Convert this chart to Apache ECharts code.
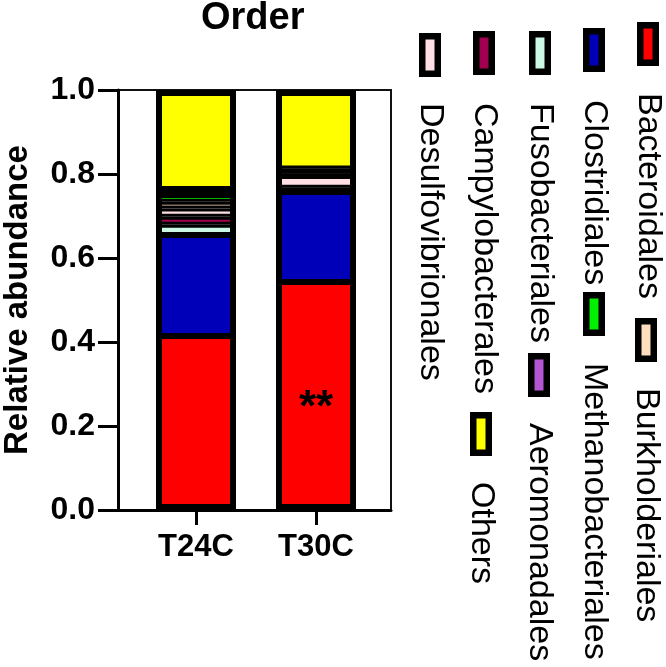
<!DOCTYPE html>
<html>
<head>
<meta charset="utf-8">
<script src="https://cdn.jsdelivr.net/npm/echarts@6/dist/echarts.min.js"></script>
<style>html,body{margin:0;padding:0;background:#fff;}#c{width:666px;height:667px;}</style>
</head>
<body>
<div id="c"></div>
<script>
const categories = ['T24C', 'T30C'];
const seriesNames = ['Bacteroidales', 'Clostridiales', 'Fusobacteriales', 'Campylobacterales', 'Desulfovibrionales', 'Burkholderiales', 'Methanobacteriales', 'Aeromonadales', 'Others'];
const seriesColors = ['#FF0000', '#0000B8', '#CCF8E6', '#A0004F', '#FFDFE4', '#FFDEBE', '#00F000', '#B455D2', '#FFFF00'];
const bacteroidales = [0.414, 0.543];
const clostridiales = [0.241, 0.214];
const fusobacteriales = [0.024, 0.005];
const campylobacterales = [0.019, 0.005];
const desulfovibrionales = [0.020, 0.028];
const burkholderiales = [0.016, 0.006];
const methanobacteriales = [0.016, 0.006];
const aeromonadales = [0.014, 0.006];
const others = [0.236, 0.187];
const significance = ['', '**'];

const values = [bacteroidales, clostridiales, fusobacteriales, campylobacterales, desulfovibrionales, burkholderiales, methanobacteriales, aeromonadales, others];
const totals = categories.map((c, j) => values.reduce((s, arr) => s + arr[j], 0));
const FONT = "'Liberation Sans', Arial, Helvetica, sans-serif";
const BAR_W = 80;

const series = seriesNames.map((name, i) => ({
  type: 'bar',
  name: name,
  stack: 'total',
  barWidth: BAR_W,
  barGap: '-100%',
  data: values[i].map((v, j) => {
    const item = { value: v };
    if (i === 0 && significance[j]) {
      item.label = {
        show: true, position: 'inside', formatter: significance[j],
        fontSize: 44, fontWeight: 'bold', color: '#000', fontFamily: FONT, offset: [0, 13]
      };
    }
    return item;
  }),
  itemStyle: { color: seriesColors[i], borderColor: '#000', borderWidth: 3 }
}));
// outer outline of each stacked column
series.push({
  type: 'bar',
  name: 'outline',
  stack: 'outline',
  barWidth: BAR_W,
  barGap: '-100%',
  silent: true,
  z: 3,
  data: totals,
  itemStyle: { color: 'rgba(0,0,0,0)', borderColor: '#000', borderWidth: 6 }
});

// legend layout (rotated 90deg clockwise like the reference)
const legendPos = [
  { sx: 637, sy: 22, ty: 93 },
  { sx: 583, sy: 28, ty: 100 },
  { sx: 529, sy: 31, ty: 103 },
  { sx: 473, sy: 31, ty: 103 },
  { sx: 419, sy: 33, ty: 103 },
  { sx: 635, sy: 318, ty: 388 },
  { sx: 583, sy: 292, ty: 363 },
  { sx: 528, sy: 353, ty: 423 },
  { sx: 470, sy: 412, ty: 482 }
];
const graphics = [];
seriesNames.forEach((name, i) => {
  const p = legendPos[i];
  graphics.push({
    type: 'rect', silent: true,
    shape: { x: p.sx + 3.25, y: p.sy + 3.25, width: 15.5, height: 37.5 },
    style: { fill: seriesColors[i], stroke: '#000', lineWidth: 6.5 }
  });
  graphics.push({
    type: 'text', silent: true,
    x: p.sx + 11, y: p.ty, rotation: -Math.PI / 2,
    style: { text: name, fontSize: 34, fontFamily: FONT, fill: '#000', textAlign: 'left', textVerticalAlign: 'middle' }
  });
});

const chart = echarts.init(document.getElementById('c'), null, { renderer: 'canvas' });
chart.setOption({
  animation: false,
  backgroundColor: '#fff',
  title: {
    text: 'Order', left: 201, top: 0, padding: 0,
    textStyle: { fontSize: 38, fontWeight: 'bold', color: '#000', fontFamily: FONT }
  },
  grid: [
    { left: 136, top: 90, right: 290, bottom: 157 },
    { left: 118, top: 90, right: 275, bottom: 157, show: true, borderColor: '#111', borderWidth: 2, backgroundColor: 'transparent' }
  ],
  xAxis: [
    {
      type: 'category', gridIndex: 0, data: categories, boundaryGap: true,
      axisLine: { show: false },
      axisTick: { show: true, alignWithLabel: true, length: 15, lineStyle: { color: '#000', width: 3 } },
      axisLabel: { fontSize: 31, fontWeight: 'bold', color: '#000', fontFamily: FONT, margin: 22 },
      splitLine: { show: false }
    },
    {
      type: 'value', gridIndex: 1, min: 0, max: 1,
      axisLine: { show: true, lineStyle: { color: '#000', width: 3 } },
      axisTick: { show: false }, axisLabel: { show: false }, splitLine: { show: false }
    }
  ],
  yAxis: [
    {
      type: 'value', gridIndex: 0, min: 0, max: 1, show: false, splitLine: { show: false }
    },
    {
      type: 'value', gridIndex: 1, min: 0, max: 1, interval: 0.2,
      name: 'Relative abundance', nameLocation: 'middle', nameGap: 84, nameRotate: 90,
      nameTextStyle: { fontSize: 33, fontWeight: 'bold', color: '#000', fontFamily: FONT },
      splitLine: { show: false },
      axisLine: { show: true, lineStyle: { color: '#000', width: 3 } },
      axisTick: { show: true, length: 20, lineStyle: { color: '#000', width: 3 } },
      axisLabel: {
        formatter: v => v.toFixed(1),
        fontSize: 32, fontWeight: 'bold', color: '#000', fontFamily: FONT, margin: 23
      }
    }
  ],
  series: series,
  graphic: graphics
});
</script>
</body>
</html>
